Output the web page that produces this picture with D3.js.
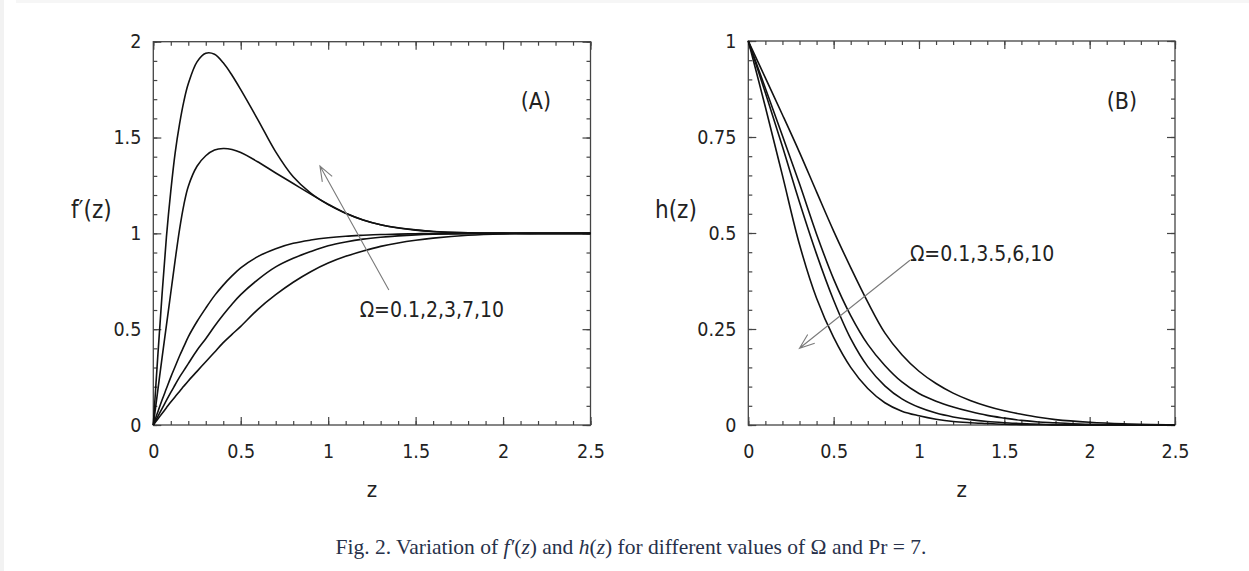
<!DOCTYPE html>
<html>
<head>
<meta charset="utf-8">
<script src="https://cdn.jsdelivr.net/npm/d3@7"></script>
<style>
  body { margin: 0; background: #fff; }
  svg { display: block; }
  .tick text { font-family: "DejaVu Sans Condensed", "DejaVu Sans", sans-serif; font-stretch: condensed; font-size: 19.5px; fill: #222; }
  .tick line { stroke: #444; stroke-width: 1.2; }
  .lbl { font-family: "DejaVu Sans Condensed", "DejaVu Sans", sans-serif; font-stretch: condensed; fill: #222; }
</style>
</head>
<body>
<script>
// Fig. 2 - f'(z) and h(z) for several Omega, Pr = 7

// panel A: f'(z), shared z grid
const zA = [0, 0.025, 0.05, 0.075, 0.1, 0.125, 0.15, 0.175, 0.2, 0.25, 0.3, 0.35, 0.4, 0.45, 0.5,
            0.6, 0.7, 0.8, 0.9, 1.0, 1.1, 1.2, 1.3, 1.4, 1.5, 1.6, 1.8, 2.0, 2.2, 2.5];
const fOmega10 = [0, 0.35, 0.68, 0.98, 1.22, 1.42, 1.57, 1.69, 1.78, 1.895, 1.94, 1.935, 1.89, 1.825, 1.75,
                  1.59, 1.425, 1.295, 1.21, 1.15, 1.105, 1.07, 1.045, 1.029, 1.018, 1.01, 1.003, 1.0, 1.0, 1.0];
const fOmega7  = [0, 0.175, 0.35, 0.52, 0.69, 0.86, 1.02, 1.15, 1.245, 1.35, 1.405, 1.435, 1.443, 1.438, 1.422,
                  1.372, 1.315, 1.26, 1.205, 1.152, 1.105, 1.07, 1.045, 1.028, 1.017, 1.01, 1.003, 1.001, 1.0, 1.0];
const fOmega3  = [0, 0.066, 0.13, 0.19, 0.25, 0.305, 0.36, 0.41, 0.46, 0.54, 0.61, 0.675, 0.73, 0.778, 0.82,
                  0.88, 0.92, 0.948, 0.965, 0.977, 0.985, 0.99, 0.994, 0.996, 0.998, 0.999, 1.0, 1.0, 1.0, 1.0];
const fOmega2  = [0, 0.043, 0.085, 0.128, 0.17, 0.21, 0.25, 0.285, 0.32, 0.39, 0.45, 0.515, 0.575, 0.63, 0.68,
                  0.76, 0.825, 0.87, 0.905, 0.935, 0.955, 0.97, 0.98, 0.987, 0.992, 0.995, 0.998, 1.0, 1.0, 1.0];
const fOmega01 = [0, 0.03, 0.06, 0.09, 0.12, 0.148, 0.175, 0.203, 0.23, 0.28, 0.33, 0.38, 0.43, 0.473, 0.515,
                  0.605, 0.68, 0.745, 0.8, 0.845, 0.88, 0.908, 0.932, 0.95, 0.964, 0.975, 0.99, 0.997, 0.999, 1.0];

// panel B: h(z)
const zB = [0, 0.1, 0.2, 0.3, 0.4, 0.5, 0.6, 0.7, 0.8, 0.9, 1.0, 1.1, 1.2, 1.3, 1.4, 1.5, 1.6, 1.7, 1.8, 2.0, 2.2, 2.5];
const hOmega10 = [1, 0.828, 0.65, 0.47, 0.33, 0.228, 0.15, 0.095, 0.058, 0.036, 0.024, 0.015, 0.009, 0.006, 0.004, 0.002, 0.001, 0.001, 0, 0, 0, 0];
const hOmega6  = [1, 0.865, 0.725, 0.58, 0.445, 0.325, 0.225, 0.152, 0.102, 0.068, 0.046, 0.031, 0.021, 0.014, 0.009, 0.006, 0.004, 0.002, 0.001, 0, 0, 0];
const hOmega35 = [1, 0.877, 0.753, 0.628, 0.497, 0.38, 0.285, 0.21, 0.155, 0.112, 0.082, 0.062, 0.047, 0.035, 0.025, 0.018, 0.012, 0.008, 0.006, 0.002, 0.001, 0];
const hOmega01 = [1, 0.904, 0.808, 0.71, 0.607, 0.505, 0.41, 0.32, 0.24, 0.183, 0.14, 0.108, 0.083, 0.064, 0.049, 0.037, 0.028, 0.02, 0.014, 0.007, 0.003, 0];

// ticks
const xMajor = [0, 0.5, 1, 1.5, 2, 2.5];
const yMajorA = [0, 0.5, 1, 1.5, 2];
const yMajorB = [0, 0.25, 0.5, 0.75, 1];

const width = 1249, height = 571;

const svg = d3.select("body").append("svg")
    .attr("width", width)
    .attr("height", height);

svg.append("rect").attr("width", width).attr("height", height).attr("fill", "#fff");
// faint page edge seen in the screenshot
svg.append("rect").attr("x", 0).attr("y", 0).attr("width", 4).attr("height", height).attr("fill", "#f2f2f2");
svg.append("rect").attr("x", 16).attr("y", 0).attr("width", width - 16).attr("height", 3).attr("fill", "#f6f6f6");

function fmt(d) { return String(d); }

function panel(opt) {
    const x = d3.scaleLinear().domain([0, 2.5]).range(opt.xr);
    const y = d3.scaleLinear().domain(opt.yd).range(opt.yr);
    const g = svg.append("g");
    const [x0, x1] = opt.xr, [y0, y1] = opt.yr;

    const xMinor = d3.range(0, 26).map(i => i / 10);
    const yMinor = d3.range(0, Math.round(opt.yd[1] / opt.yStep) + 1).map(i => i * opt.yStep);

    // minor ticks on all four sides
    g.append("g").attr("transform", `translate(0,${y0})`)
        .call(d3.axisBottom(x).tickValues(xMinor).tickSize(-4).tickSizeOuter(0).tickFormat(""));
    g.append("g").attr("transform", `translate(0,${y1})`)
        .call(d3.axisTop(x).tickValues(xMinor).tickSize(-4).tickSizeOuter(0).tickFormat(""));
    g.append("g").attr("transform", `translate(${x0},0)`)
        .call(d3.axisLeft(y).tickValues(yMinor).tickSize(-4).tickSizeOuter(0).tickFormat(""));
    g.append("g").attr("transform", `translate(${x1},0)`)
        .call(d3.axisRight(y).tickValues(yMinor).tickSize(-4).tickSizeOuter(0).tickFormat(""));

    // major ticks + labels
    g.append("g").attr("transform", `translate(0,${y0})`)
        .call(d3.axisBottom(x).tickValues(xMajor).tickSize(-8).tickSizeOuter(0).tickPadding(19).tickFormat(fmt));
    g.append("g").attr("transform", `translate(0,${y1})`)
        .call(d3.axisTop(x).tickValues(xMajor).tickSize(-8).tickSizeOuter(0).tickFormat(""));
    g.append("g").attr("transform", `translate(${x0},0)`)
        .call(d3.axisLeft(y).tickValues(opt.yMajor).tickSize(-8).tickSizeOuter(0).tickPadding(12).tickFormat(fmt));
    g.append("g").attr("transform", `translate(${x1},0)`)
        .call(d3.axisRight(y).tickValues(opt.yMajor).tickSize(-8).tickSizeOuter(0).tickFormat(""));

    g.selectAll(".domain").remove();

    g.append("rect")
        .attr("x", x0).attr("y", y1)
        .attr("width", x1 - x0).attr("height", y0 - y1)
        .attr("fill", "none").attr("stroke", "#444").attr("stroke-width", 1.3);

    const line = d3.line()
        .x((d, i) => x(opt.z[i]))
        .y(d => y(d))
        .curve(d3.curveCatmullRom.alpha(0.5));

    g.selectAll(".curve").data(opt.series).enter()
        .append("path")
        .attr("class", "curve")
        .attr("d", line)
        .attr("fill", "none")
        .attr("stroke", "#111")
        .attr("stroke-width", 1.6);

    // annotation arrow
    const ax0 = x(opt.arrow[0][0]), ay0 = y(opt.arrow[0][1]);
    const ax1 = x(opt.arrow[1][0]), ay1 = y(opt.arrow[1][1]);
    const ang = Math.atan2(ay0 - ay1, ax0 - ax1);
    const len = 16, spread = 0.36;
    g.append("path")
        .attr("d", `M${ax0},${ay0}L${ax1},${ay1}` +
                   `M${ax1 + len * Math.cos(ang - spread)},${ay1 + len * Math.sin(ang - spread)}L${ax1},${ay1}` +
                   `L${ax1 + len * Math.cos(ang + spread)},${ay1 + len * Math.sin(ang + spread)}`)
        .attr("fill", "none").attr("stroke", "#7a7a7a").attr("stroke-width", 1.1);

    g.append("text").attr("class", "lbl")
        .attr("x", x(opt.note[0])).attr("y", y(opt.note[1]))
        .style("font-size", "21px")
        .text(opt.noteText);

    g.append("text").attr("class", "lbl")
        .attr("x", x(opt.tag[0])).attr("y", y(opt.tag[1]))
        .style("font-size", "23px")
        .text(opt.tagText);

    g.append("text").attr("class", "lbl")
        .attr("x", (x0 + x1) / 2).attr("y", 497)
        .attr("text-anchor", "middle")
        .style("font-size", "22px")
        .text("z");

    g.append("text").attr("class", "lbl")
        .attr("x", opt.ylabX).attr("y", 218)
        .style("font-size", "24px")
        .text(opt.ylab);
}

panel({
    xr: [153.3, 590.5], yr: [425, 41.7], yd: [0, 2], yStep: 0.1, yMajor: yMajorA,
    z: zA, series: [fOmega10, fOmega7, fOmega3, fOmega2, fOmega01],
    arrow: [[1.347, 0.704], [0.953, 1.351]],
    note: [1.18, 0.564], noteText: "\u03A9=0.1,2,3,7,10",
    tag: [2.101, 1.649], tagText: "(A)",
    ylabX: 71, ylab: "f\u2032(z)"
});

panel({
    xr: [748.3, 1175], yr: [425, 41], yd: [0, 1], yStep: 0.05, yMajor: yMajorB,
    z: zB, series: [hOmega10, hOmega6, hOmega35, hOmega01],
    arrow: [[0.947, 0.429], [0.30, 0.20]],
    note: [0.947, 0.427], noteText: "\u03A9=0.1,3.5,6,10",
    tag: [2.1, 0.823], tagText: "(B)",
    ylabX: 655, ylab: "h(z)"
});

// caption
const cap = svg.append("text")
    .attr("x", 631).attr("y", 554)
    .attr("text-anchor", "middle")
    .style("font-family", "'Liberation Serif', 'Times New Roman', serif")
    .style("font-size", "21.5px")
    .attr("fill", "#27314a");
cap.append("tspan").text("Fig. 2. Variation of ");
cap.append("tspan").style("font-style", "italic").text("f\u2032");
cap.append("tspan").text("(");
cap.append("tspan").style("font-style", "italic").text("z");
cap.append("tspan").text(") and ");
cap.append("tspan").style("font-style", "italic").text("h");
cap.append("tspan").text("(");
cap.append("tspan").style("font-style", "italic").text("z");
cap.append("tspan").text(") for different values of \u03A9 and Pr = 7.");
</script>
</body>
</html>
